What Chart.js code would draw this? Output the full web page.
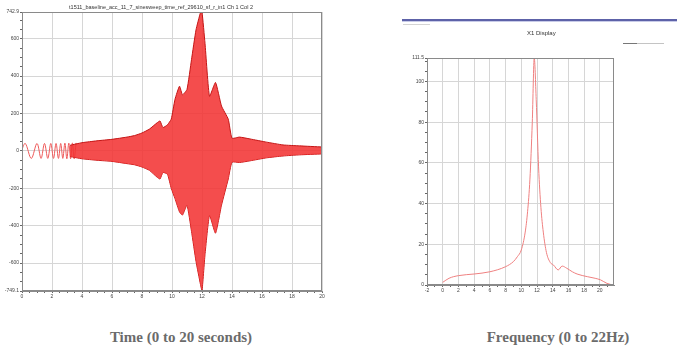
<!DOCTYPE html>
<html>
<head>
<meta charset="utf-8">
<script src="https://cdn.jsdelivr.net/npm/chart.js@4/dist/chart.umd.min.js"></script>
<style>
  body { margin: 0; width: 682px; height: 351px; background: #fff; position: relative; overflow: hidden; }
  canvas { position: absolute; }
  .cap { position: absolute; top: 329px; font: bold 15px "Liberation Serif", serif; color: #6b6b6b; white-space: nowrap; transform: translateX(-50%); }
  .deco { position: absolute; }
</style>
</head>
<body>
<canvas id="timeChart" width="340" height="300" style="left:0;top:0"></canvas>
<canvas id="freqChart" width="282" height="300" style="left:400px;top:0"></canvas>

<div class="deco" style="left:402px;top:19px;width:275px;height:2px;background:#5d62a8"></div>
<div class="deco" style="left:402px;top:21px;width:275px;height:1px;background:#c8cbe8"></div>
<div class="deco" style="left:403px;top:24px;width:27px;height:1px;background:#d4d4d4"></div>
<div class="deco" style="left:527px;top:30px;font:6px 'Liberation Sans',sans-serif;color:#333">X1 Display</div>
<div class="deco" style="left:623px;top:43px;width:14px;height:1px;background:#777"></div>
<div class="deco" style="left:637px;top:43px;width:27px;height:1px;background:#c4c4c4"></div>

<div class="cap" style="left:181px">Time (0 to 20 seconds)</div>
<div class="cap" style="left:558px">Frequency (0 to 22Hz)</div>

<script>
// time signal: first visible cycles of the sweep (s, value)
const earlyTime = [0, 0.22, 0.62, 1.0, 1.27, 1.5, 1.72, 1.92, 2.1, 2.27, 2.43, 2.58, 2.72, 2.86, 2.99, 3.12, 3.24, 3.36, 3.48, 3.6]
const earlyValue = [10, 40, -40, 40, -40, 40, -40, 40, -40, 40, -40, 40, -40, 42, -42, 42, -42, 43, -43, 43]

// envelope of the dense part of the signal
const envTime = [3.2, 4.0, 5.0, 6.0, 7.0, 7.5, 8.0, 8.5, 9.0, 9.2, 9.4, 9.7, 9.95, 10.2, 10.5, 10.7, 11.0, 11.3, 11.6, 11.9, 12.0, 12.2, 12.5, 12.9, 13.3, 13.75, 14.0, 14.5, 15.2, 16.3, 17.4, 18.5, 20.0]
const envUpper = [30, 44, 54, 62, 74, 82, 96, 117, 150, 160, 125, 140, 170, 276, 346, 300, 329, 488, 647, 740, 742.9, 576, 292, 366, 240, 170, 68, 74, 64, 47, 32, 27, 21]
const envLower = [-30, -42, -50, -56, -68, -74, -86, -104, -140, -150, -115, -125, -200, -255, -326, -343, -290, -430, -590, -715, -749.1, -555, -345, -440, -290, -150, -60, -62, -53, -37, -27, -21, -16]

const timeYLabels = [-749.1, -600, -400, -200, 0, 200, 400, 600, 742.9]
const timeXLabels = [0, 2, 4, 6, 8, 10, 12, 14, 16, 18, 20]

// spectrum (Hz, amplitude)
const freqHz = [0, 0.8, 2, 4, 6, 8, 9, 9.5, 10, 10.5, 10.8, 11.1, 11.4, 11.65, 11.9, 12.2, 12.5, 12.8, 13.2, 13.7, 14.1, 14.7, 15.2, 15.8, 16.5, 17.1, 18.4, 19.4, 20.1, 20.9, 21.7]
const freqAmp = [1.3, 3.3, 4.6, 5.4, 6.5, 9.0, 11.5, 13.9, 17.2, 26, 36, 52, 80, 111.5, 91, 58, 38, 26, 16, 11, 9.8, 7.4, 9.3, 8.2, 6.5, 5.4, 4.1, 3.3, 2.5, 0.8, 0]

const freqYLabels = [0, 20, 40, 60, 80, 100, 111.5]
const freqXLabels = [-2, 0, 2, 4, 6, 8, 10, 12, 14, 16, 18, 20]

const pts = (xs, ys) => xs.map((x, i) => ({ x, y: ys[i] }))

const framePlugin = {
  id: "frame",
  afterDraw(chart) {
    const { ctx, chartArea: a } = chart
    ctx.save()
    ctx.strokeStyle = "#8a8a8a"
    ctx.lineWidth = 1
    ctx.strokeRect(a.left + 0.5, a.top + 0.5, a.width - 1, a.height - 1)
    ctx.restore()
  },
}

// builds a tick list: labelled values plus small unlabelled ticks every `step`
function axis(min, max, labels, step, size, isX) {
  const isMajor = (v) => labels.some((l) => Math.abs(l - v) < 1e-6)
  return {
    type: "linear",
    min,
    max,
    afterBuildTicks(scale) {
      const vals = [...labels]
      for (let v = Math.ceil(min / step) * step; v <= max; v += step) {
        if (!isMajor(v)) vals.push(v)
      }
      scale.ticks = vals.sort((a, b) => a - b).map((value) => ({ value }))
    },
    afterFit(scale) {
      if (isX) scale.height = size
      else scale.width = size
    },
    grid: {
      color: (c) => (c.tick && isMajor(c.tick.value) ? "#d6d6d6" : "rgba(0,0,0,0)"),
      tickColor: "#666",
      tickLength: 2,
      lineWidth: 1,
    },
    border: { color: "#8a8a8a" },
    ticks: {
      autoSkip: false,
      maxRotation: 0,
      padding: 1,
      color: "#444",
      font: { family: "Liberation Sans", size: 5 },
      callback: (v) => (isMajor(v) ? String(v) : ""),
    },
  }
}

new Chart(document.getElementById("timeChart"), {
  type: "line",
  data: {
    datasets: [
      {
        data: pts(envTime, envUpper),
        borderColor: "#c41414",
        backgroundColor: "rgba(242,52,52,0.88)",
        borderWidth: 1,
        fill: "+1",
        pointRadius: 0,
        tension: 0.15,
      },
      {
        data: pts(envTime, envLower),
        borderColor: "#c41414",
        borderWidth: 1,
        fill: false,
        pointRadius: 0,
        tension: 0.15,
      },
      {
        data: pts(earlyTime, earlyValue),
        borderColor: "#ee5a5a",
        borderWidth: 1,
        fill: false,
        pointRadius: 0,
        tension: 0.35,
      },
    ],
  },
  options: {
    responsive: false,
    animation: false,
    layout: { padding: { left: 0, right: 18, top: 0, bottom: 0 } },
    plugins: {
      legend: { display: false },
      tooltip: { enabled: false },
      title: {
        display: true,
        text: "t1511_baseline_acc_11_7_sinesweep_time_ref_29610_sf_r_in1 Ch 1 Col 2",
        color: "#333",
        font: { family: "Liberation Sans", size: 5.5, weight: "normal", lineHeight: 1.2 },
        padding: { top: 4, bottom: 1.4 },
      },
    },
    scales: {
      x: axis(0, 20, timeXLabels, 0.5, 9, true),
      y: axis(-749.1, 742.9, timeYLabels, 50, 22, false),
    },
  },
  plugins: [framePlugin],
})

new Chart(document.getElementById("freqChart"), {
  type: "line",
  data: {
    datasets: [
      {
        data: pts(freqHz, freqAmp),
        borderColor: "#ef8080",
        borderWidth: 1,
        fill: false,
        pointRadius: 0,
        cubicInterpolationMode: "monotone",
      },
    ],
  },
  options: {
    responsive: false,
    animation: false,
    layout: { padding: { left: 0, right: 68, top: 58, bottom: 0 } },
    plugins: { legend: { display: false }, tooltip: { enabled: false } },
    scales: {
      x: axis(-2, 21.8, freqXLabels, 1, 15, true),
      y: axis(0, 111.5, freqYLabels, 5, 27, false),
    },
  },
  plugins: [framePlugin],
})
</script>
</body>
</html>
